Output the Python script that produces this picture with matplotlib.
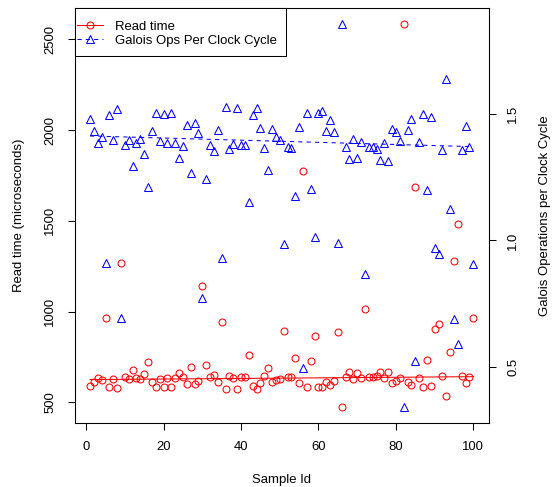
import matplotlib
matplotlib.use("Agg")
import matplotlib.pyplot as plt
from matplotlib.lines import Line2D
from matplotlib.patches import Rectangle
import numpy as np

# sample ids 1..100
sample_id = list(range(1, 101))

# read time in microseconds (left axis)
read_time = [592, 612, 634, 621, 967, 586, 627, 577, 1269, 638,
             627, 678, 634, 627, 654, 724, 610, 584, 630, 584,
             634, 584, 634, 662, 640, 601, 693, 599, 616, 1138,
             704, 638, 649, 610, 941, 573, 645, 636, 575, 638,
             638, 763, 588, 575, 608, 643, 688, 610, 621, 630,
             890, 641, 641, 744, 605, 1772, 584, 730, 866, 584,
             584, 610, 594, 616, 888, 472, 641, 666, 629, 662,
             634, 1013, 641, 641, 645, 666, 634, 667, 608, 616,
             634, 2586, 610, 594, 1687, 634, 584, 732, 590, 904,
             930, 647, 536, 779, 1276, 1484, 645, 605, 641, 967]

# galois ops per clock cycle (right axis)
ops_per_cycle = [1.478, 1.432, 1.385, 1.408, 0.911, 1.495, 1.395, 1.517, 0.694, 1.375,
                 1.396, 1.295, 1.385, 1.399, 1.342, 1.210, 1.433, 1.504, 1.391, 1.500,
                 1.383, 1.503, 1.383, 1.325, 1.371, 1.457, 1.267, 1.464, 1.423, 0.772,
                 1.243, 1.377, 1.354, 1.437, 0.932, 1.528, 1.359, 1.379, 1.524, 1.375,
                 1.375, 1.150, 1.495, 1.521, 1.443, 1.366, 1.279, 1.441, 1.409, 1.395,
                 0.986, 1.368, 1.366, 1.176, 1.447, 0.499, 1.503, 1.202, 1.014, 1.502,
                 1.509, 1.433, 1.475, 1.428, 0.989, 1.855, 1.370, 1.320, 1.399, 1.325,
                 1.387, 0.866, 1.370, 1.370, 1.360, 1.316, 1.384, 1.313, 1.440, 1.426,
                 1.391, 0.342, 1.434, 1.479, 0.523, 1.387, 1.500, 1.198, 1.488, 0.972,
                 0.945, 1.357, 1.636, 1.125, 0.689, 0.592, 1.358, 1.450, 1.368, 0.907]

# trend lines (at first and last sample)
fit_ids = [1, 100]
read_fit = [625, 641]
ops_fit = [1.412, 1.370]

x_ticks = [0, 20, 40, 60, 80, 100]
left_ticks = [500, 1000, 1500, 2000, 2500]
right_ticks = [0.5, 1.0, 1.5]

FS = 9.43  # ~13 px at 100 dpi
LW = 0.75
plt.rcParams['font.family'] = ['Liberation Sans', 'DejaVu Sans']
plt.rcParams['font.size'] = FS

fig = plt.figure(figsize=(5.52, 4.87), dpi=100)
ax = fig.add_axes([74.7 / 552, (487 - 422.7) / 487, 414 / 552, 414.4 / 487])

ax.plot(sample_id, read_time, linestyle='none', marker='o', markersize=5.0,
        markerfacecolor='none', markeredgecolor='red', markeredgewidth=LW)
ax.plot(fit_ids, read_fit, color='red', lw=LW)
ax.margins(x=0.04, y=0.04)

ax2 = ax.twinx()
ax2.plot(sample_id, ops_per_cycle, linestyle='none', marker='^', markersize=5.6,
         markerfacecolor='none', markeredgecolor='blue', markeredgewidth=LW)
ax2.plot(fit_ids, ops_fit, color='blue', lw=LW, linestyle=(0, (4, 4)))
ax2.margins(x=0.04, y=0.04)

ax.set_xticks(x_ticks)
ax.set_yticks(left_ticks)
ax2.set_yticks(right_ticks)
ax.set_yticklabels([str(t) for t in left_ticks], rotation=90, va='center')
ax2.set_yticklabels([str(t) for t in right_ticks], rotation=90, va='center')

for a in (ax, ax2):
    for s in a.spines.values():
        s.set_linewidth(LW)
        s.set_color('black')
    a.tick_params(direction='out', length=5.2, width=LW, labelsize=FS, colors='black')
ax.tick_params(axis='x', pad=8)
ax.tick_params(axis='y', pad=8)
ax2.tick_params(axis='y', pad=8)

ax.set_xlabel('Sample Id', fontsize=FS)
ax.xaxis.set_label_coords(0.5, -0.1375)
ax.xaxis.label.set_va('center')
ax.set_ylabel('Read time (microseconds)', fontsize=FS)
ax.yaxis.set_label_coords(-0.1345, 0.5)
ax.yaxis.label.set_va('center')
ax2.set_ylabel('Galois Operations per Clock Cycle', fontsize=FS, rotation=90)
ax2.yaxis.set_label_coords(1.136, 0.5)
ax2.yaxis.label.set_va('center')

# legend box like R's topleft legend
ax2.add_patch(Rectangle((0, 1 - 0.1161), 0.5104, 0.1161, transform=ax2.transAxes,
                        facecolor='white', edgecolor='black', lw=LW, zorder=5,
                        clip_on=False))
handles = [
    Line2D([], [], color='red', lw=LW, marker='o', markersize=5.0,
           markerfacecolor='none', markeredgecolor='red', markeredgewidth=LW),
    Line2D([], [], color='blue', lw=LW, linestyle=(0, (4, 4)), marker='^', markersize=5.6,
           markerfacecolor='none', markeredgecolor='blue', markeredgewidth=LW),
]
leg = ax2.legend(handles, ['Read time', 'Galois Ops Per Clock Cycle'],
                 loc='upper left', bbox_to_anchor=(0.0056, 0.970), borderaxespad=0,
                 borderpad=0, frameon=False, handlelength=1.98, handletextpad=0.89,
                 labelspacing=0.13, fontsize=FS)
leg.set_zorder(6)

fig.savefig('out.png', dpi=100)
